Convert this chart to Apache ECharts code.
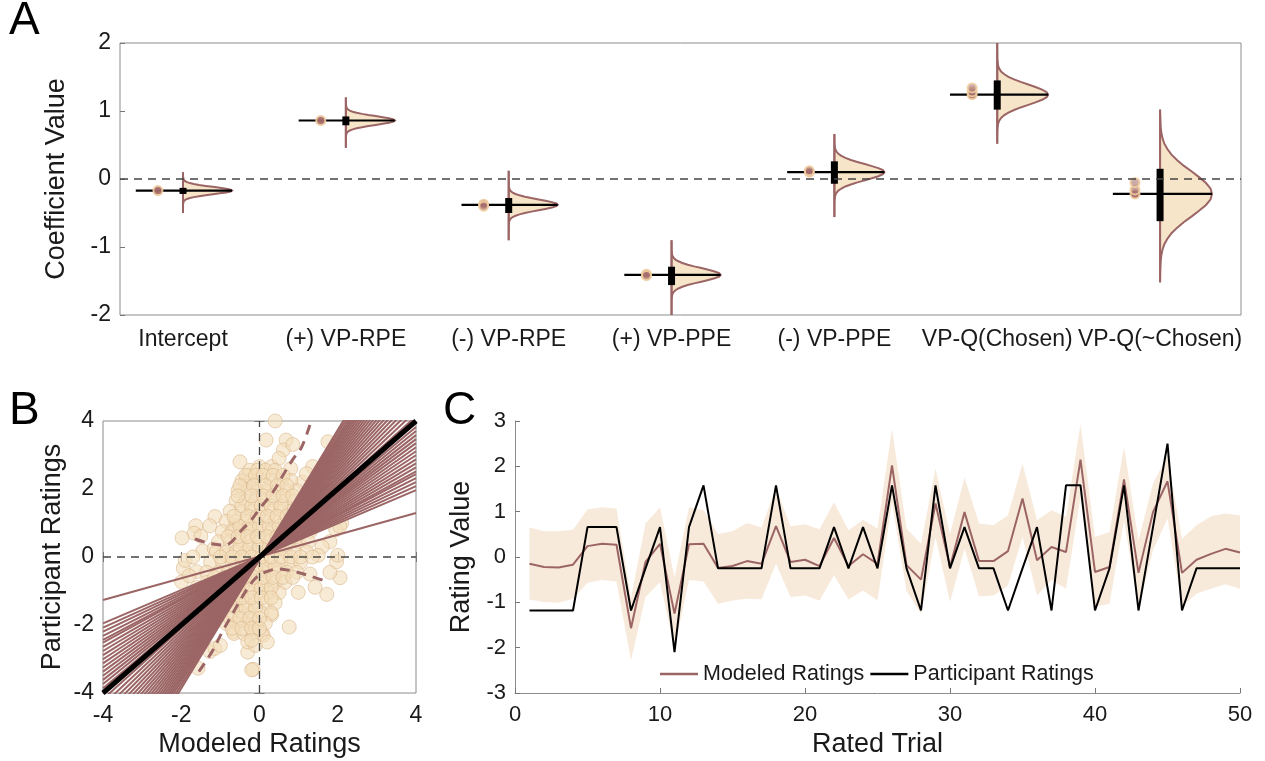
<!DOCTYPE html>
<html><head><meta charset="utf-8">
<script src="https://cdn.jsdelivr.net/npm/echarts@6/dist/echarts.min.js"></script>
<style>html,body{margin:0;padding:0;background:#fff}#c{width:1265px;height:761px}</style>
</head><body><div id="c"></div>
<script>
// ---------------- Panel A data ----------------
const coefNames = ['Intercept','(+) VP-RPE','(-) VP-RPE','(+) VP-PPE','(-) VP-PPE','VP-Q(Chosen)','VP-Q(~Chosen)'];
const coefMean   = [-0.17, 0.86, -0.38, -1.41, 0.10, 1.24, -0.22];
const coefSpread = [0.055, 0.065, 0.08, 0.10, 0.12, 0.15, 0.33];
const coefLo     = [-0.50, 0.46, -0.90, -2.02, -0.56, 0.52, -1.52];
const coefHi     = [0.10, 1.20, 0.12, -0.90, 0.66, 2.02, 1.02];
const ciLo       = [-0.22, 0.79, -0.50, -1.56, -0.07, 1.02, -0.62];
const ciHi       = [-0.13, 0.92, -0.28, -1.29, 0.26, 1.45, 0.15];
const dotVals    = [[-0.17],[0.86],[-0.37,-0.40],[-1.40,-1.42],[0.10,0.12],[1.24,1.28,1.34],[-0.22,-0.16,-0.05]];
const violinWidth = [0.301, 0.301, 0.301, 0.301, 0.307, 0.313, 0.319];
// shape of the half-violin outline (offset in spread units -> relative width)
const profZ = [0, 0.25, 0.5, 0.75, 1, 1.25, 1.5, 1.75, 2, 2.25, 2.5, 2.75, 3, 3.5, 4, 5];
const profW = [1, 0.97, 0.88, 0.75, 0.61, 0.46, 0.33, 0.22, 0.14, 0.08, 0.045, 0.023, 0.012, 0.003, 0.0005, 0];

// ---------------- Panel B data ----------------
const ratingPoints = [
 [0.40,4.0],[0.17,3.44],[0.68,3.44],[0.61,3.15],[0.85,3.31],[1.36,2.66],[1.75,3.39],[0.0,2.66],[0.31,2.66],[-0.29,2.41],[-0.35,2.22],
 [-1.14,1.19],[-1.27,0.92],[-1.63,0.92],[-1.67,0.70],[-1.5,0.61],[-1.98,0.56],[-1.45,0.18],[-1.16,0.25],[-0.84,0.06],[-0.63,0.92],
 [-1.95,-0.33],[-1.99,-0.73],[-1.61,-0.43],[-1.8,-0.55],[-1.27,-2.78],[-1.14,-2.69],[-1.57,-3.27],[-0.16,-3.3],[-0.24,-2.0],[-0.84,-1.31],[-0.67,-2.2],
 [2.06,-0.61],[1.72,-1.1],[1.42,-0.89],[0.76,-2.06],[1.8,-0.45],[1.97,-0.14],[0.99,-1.04],[0.31,-1.7],[-0.2,-3.32],[1.29,-0.5],
 [2.1,1.0],[1.8,0.45],[1.95,0.8],[2.05,0.9],[1.6,0.3],[1.5,0.05],[2.0,0.05],[1.25,1.1],[1.4,1.6],[1.1,2.2],[1.2,2.45],
 [-1.6,-0.9],[-1.9,-0.1],[-1.7,0.0],[-1.3,-1.5],[-1.0,-2.6],[-0.3,-2.8],[0.1,-2.3],[-0.5,2.8],[0.5,2.9],[0.8,2.6],
 [-0.25,2.55],[-0.05,2.55],[0.15,2.55],[0.4,2.55],
 [-0.45,2.25],[-0.2,2.25],[0.05,2.25],[0.3,2.25],[0.55,2.25],[0.8,2.25],
 [-0.55,1.95],[-0.3,1.95],[-0.05,1.95],[0.2,1.95],[0.45,1.95],[0.7,1.95],[0.95,1.95],
 [-0.6,1.65],[-0.35,1.65],[-0.1,1.65],[0.15,1.65],[0.4,1.65],[0.65,1.65],[0.9,1.65],[1.1,1.65],
 [-0.75,1.35],[-0.45,1.35],[-0.2,1.35],[0.05,1.35],[0.3,1.35],[0.55,1.35],[0.8,1.35],[1.0,1.35],
 [-0.85,1.05],[-0.6,1.05],[-0.35,1.05],[-0.1,1.05],[0.15,1.05],[0.4,1.05],[0.65,1.05],[0.9,1.05],[1.15,1.05],
 [-0.95,0.75],[-0.7,0.75],[-0.45,0.75],[-0.2,0.75],[0.05,0.75],[0.3,0.75],[0.55,0.75],[0.8,0.75],[1.05,0.75],[1.3,0.75],
 [-1.05,0.45],[-0.75,0.45],[-0.5,0.45],[-0.25,0.45],[0.0,0.45],[0.25,0.45],[0.5,0.45],[0.75,0.45],[1.0,0.45],[1.25,0.45],
 [-1.1,0.15],[-0.85,0.15],[-0.6,0.15],[-0.35,0.15],[-0.1,0.15],[0.15,0.15],[0.4,0.15],[0.65,0.15],[0.9,0.15],[1.2,0.15],
 [-1.25,-0.15],[-0.95,-0.15],[-0.7,-0.15],[-0.45,-0.15],[-0.2,-0.15],[0.05,-0.15],[0.3,-0.15],[0.55,-0.15],[0.8,-0.15],[1.05,-0.15],
 [-1.35,-0.45],[-1.05,-0.45],[-0.8,-0.45],[-0.55,-0.45],[-0.3,-0.45],[-0.05,-0.45],[0.2,-0.45],[0.45,-0.45],[0.7,-0.45],[0.95,-0.45],
 [-1.35,-0.75],[-1.1,-0.75],[-0.85,-0.75],[-0.6,-0.75],[-0.35,-0.75],[-0.1,-0.75],[0.15,-0.75],[0.4,-0.75],[0.65,-0.75],
 [-1.25,-1.05],[-1.0,-1.05],[-0.75,-1.05],[-0.5,-1.05],[-0.25,-1.05],[0.0,-1.05],[0.25,-1.05],[0.5,-1.05],
 [-1.1,-1.35],[-0.85,-1.35],[-0.6,-1.35],[-0.35,-1.35],[-0.1,-1.35],[0.15,-1.35],[0.4,-1.35],
 [-0.95,-1.65],[-0.7,-1.65],[-0.45,-1.65],[-0.2,-1.65],[0.05,-1.65],[0.3,-1.65],
 [-0.85,-1.95],[-0.6,-1.95],[-0.35,-1.95],[-0.1,-1.95],[0.15,-1.95],
 [-0.65,-2.25],[-0.4,-2.25],[-0.15,-2.25],[0.05,-2.25],
 [-0.45,1.5],[-0.2,1.5],[0.05,1.5],[0.3,1.5],[0.55,1.5],
 [-0.5,0.9],[-0.25,0.9],[0.0,0.9],[0.25,0.9],[0.5,0.9],
 [-0.5,0.3],[-0.25,0.3],[0.0,0.3],[0.25,0.3],[0.5,0.3],
 [-0.6,-0.3],[-0.35,-0.3],[-0.1,-0.3],[0.15,-0.3],[0.4,-0.3],
 [-0.7,-0.9],[-0.45,-0.9],[-0.2,-0.9],[0.05,-0.9],[0.3,-0.9],
 [-0.6,-1.5],[-0.35,-1.5],[-0.1,-1.5],
 [-0.35,2.4],[-0.1,2.4],[0.1,2.4],[0.35,2.4],[0.6,2.4],
 [-0.5,2.1],[-0.15,2.1],[0.15,2.1],[0.45,2.1],[0.7,2.1],
 [-0.55,1.8],[-0.2,1.8],[0.1,1.8],[0.35,1.8],[0.6,1.8],[0.85,1.8],
 [-0.65,1.2],[-0.3,1.2],[-0.05,1.2],[0.2,1.2],[0.45,1.2],[0.7,1.2],[0.95,1.2],
 [-0.8,0.6],[-0.55,0.6],[-0.3,0.6],[-0.05,0.6],[0.2,0.6],[0.45,0.6],[0.7,0.6],[0.95,0.6],
 [-1.0,0.0],[-0.7,0.0],[-0.45,0.0],[-0.2,0.0],[0.05,0.0],[0.3,0.0],[0.55,0.0],[0.8,0.0],[1.05,0.0],[1.35,0.0],
 [-1.15,-0.6],[-0.9,-0.6],[-0.65,-0.6],[-0.4,-0.6],[-0.15,-0.6],[0.1,-0.6],[0.35,-0.6],[0.6,-0.6],[0.85,-0.6],
 [-1.0,-1.2],[-0.7,-1.2],[-0.45,-1.2],[-0.2,-1.2],[0.05,-1.2],[0.3,-1.2],
 [-0.75,-1.8],[-0.5,-1.8],[-0.25,-1.8],[0.0,-1.8],
 [-0.7,-2.1],[-0.45,-2.1],[-0.2,-2.1],[0.0,-2.1],
 [-0.3,-2.5],[-0.1,-2.6],[-0.2,-2.45],[0.2,-2.5]
];
const fitSlopes = [0.32,0.49,0.52,0.55,0.58,0.61,0.63,0.66,0.69,0.72,0.75,0.78,0.81,0.84,0.87,0.90,0.93,0.96,1.00,1.04,1.08,1.12,1.16,1.20,1.24,1.28,1.32,1.36,1.40,1.44,1.48,1.52,1.56,1.60,1.64,1.68,1.72,1.76,1.80,1.85,1.90];
const fitPivot = [0.05, 0.03];
const boundUpper = [[-1.65,0.53],[-1.27,0.40],[-0.88,0.35],[-0.71,0.45],[-0.45,0.8],[-0.2,1.1],[0.01,1.43],[0.35,1.92],[0.65,2.5],[0.87,2.9],[1.08,3.24],[1.32,4.0]];
const boundLower = [[-1.55,-3.37],[-1.21,-2.78],[-0.95,-2.2],[-0.66,-1.61],[-0.36,-1.02],[-0.08,-0.6],[0.2,-0.42],[0.5,-0.35],[0.9,-0.43],[1.3,-0.56],[1.7,-0.72]];

// ---------------- Panel C data ----------------
const trials = [1,2,3,4,5,6,7,8,9,10,11,12,13,14,15,16,17,18,19,20,21,22,23,24,25,26,27,28,29,30,31,32,33,34,35,36,37,38,39,40,41,42,43,44,45,46,47,48,49,50];
const participant = [-1.18,-1.18,-1.18,-1.18,0.66,0.66,0.66,-1.18,-0.25,0.66,-2.1,0.66,1.58,-0.25,-0.25,-0.25,-0.25,1.58,-0.25,-0.25,-0.25,0.66,-0.25,0.66,-0.25,1.58,-0.25,-1.18,1.58,-0.25,0.66,-0.25,-0.25,-1.18,-0.25,0.66,-1.18,1.58,1.58,-1.18,-0.25,1.58,-1.18,0.66,2.5,-1.18,-0.25,-0.25,-0.25,-0.25];
const modeled = [-0.15,-0.22,-0.23,-0.17,0.24,0.29,0.27,-1.57,-0.11,0.29,-1.25,0.28,0.29,-0.24,-0.2,-0.09,-0.15,0.68,-0.11,-0.06,-0.2,0.42,-0.2,0.06,-0.15,2.02,-0.18,-0.5,1.18,-0.22,0.99,-0.09,-0.09,0.13,1.29,-0.07,0.22,0.11,2.15,-0.33,-0.22,1.71,-0.35,0.99,1.67,-0.35,-0.06,0.07,0.18,0.1];
const bandUpper = [0.65,0.57,0.57,0.6,1.05,1.1,1.07,-0.9,0.74,1.09,-0.45,1.1,1.03,0.51,0.57,0.75,0.65,1.53,0.68,0.72,0.61,1.21,0.59,0.82,0.63,2.83,0.63,0.29,1.95,0.51,1.76,0.74,0.7,0.92,2.06,0.81,1.03,0.88,2.94,0.44,0.55,2.43,0.37,1.62,2.24,0.4,0.7,0.9,0.96,0.92];
const bandLower = [-0.94,-0.99,-1.01,-0.92,-0.57,-0.51,-0.54,-2.28,-0.88,-0.55,-2.0,-0.51,-0.54,-1.03,-0.96,-0.92,-0.93,-0.15,-0.88,-0.85,-0.96,-0.4,-0.94,-0.74,-0.96,1.2,-0.75,-1.25,0.44,-0.99,0.18,-0.87,-0.85,-0.63,0.44,-0.85,-0.51,-0.7,1.32,-1.1,-1.03,0.81,-1.14,0.15,0.85,-1.09,-0.81,-0.7,-0.6,-0.7];

// ---------------- styling ----------------
const FONT = 'Liberation Sans, Arial, Helvetica, sans-serif';
const TXT = '#1a1a1a';
const ROSE = '#9c6565';
const BOX = '#8c8c8c';

const chart = echarts.init(document.getElementById('c'), null, {renderer: 'canvas'});

function renderViolin(params, api) {
  const i = api.value(0);
  const cx = i + 1, m = coefMean[i], s = coefSpread[i], lo = coefLo[i], hi = coefHi[i], hw = violinWidth[i];
  const zs = [], ws = [];
  for (let k = profZ.length - 1; k > 0; k--) { zs.push(-profZ[k]); ws.push(profW[k]); }
  for (let k = 0; k < profZ.length; k++) { zs.push(profZ[k]); ws.push(profW[k]); }
  const pts = [api.coord([cx, lo])];
  for (let k = 0; k < zs.length; k++) {
    const y = m + zs[k] * s;
    if (y > lo && y < hi) pts.push(api.coord([cx + ws[k] * hw, y]));
  }
  pts.push(api.coord([cx, hi]));
  const children = [];
  children.push({type: 'polygon', shape: {points: pts}, style: {fill: 'rgba(243,219,180,0.72)', stroke: ROSE, lineWidth: 2}});
  const b0 = api.coord([cx, lo]), b1 = api.coord([cx, hi]);
  children.push({type: 'line', shape: {x1: b0[0], y1: b0[1], x2: b1[0], y2: b1[1]}, style: {stroke: ROSE, lineWidth: 2}});
  const l0 = api.coord([cx - 0.29, m]), l1 = api.coord([cx + hw, m]);
  children.push({type: 'line', shape: {x1: l0[0], y1: l0[1], x2: l1[0], y2: l1[1]}, style: {stroke: '#000', lineWidth: 2.2}});
  const c0 = api.coord([cx, ciHi[i]]), c1 = api.coord([cx, ciLo[i]]);
  children.push({type: 'rect', shape: {x: c0[0] - 3.5, y: c0[1], width: 7, height: c1[1] - c0[1]}, style: {fill: '#000'}});
  dotVals[i].forEach((v, j) => {
    const p = api.coord([cx - 0.154, v]);
    children.push({type: 'circle', shape: {cx: p[0], cy: p[1], r: 4.5},
      style: {fill: j === 0 ? 'rgba(165,105,105,0.95)' : 'rgba(170,115,115,0.6)', stroke: 'rgba(240,205,160,0.9)', lineWidth: 2}});
  });
  return {type: 'group', children};
}

function renderBand(params, api) {
  const pts = [];
  for (let k = 0; k < trials.length; k++) pts.push(api.coord([trials[k], bandUpper[k]]));
  for (let k = trials.length - 1; k >= 0; k--) pts.push(api.coord([trials[k], bandLower[k]]));
  return {type: 'polygon', shape: {points: pts}, style: {fill: '#f8eadb'}};
}

const series = [];
// Panel A
series.push({type: 'line', xAxisIndex: 0, yAxisIndex: 0, data: [[0.613, 0], [7.497, 0]], symbol: 'none',
  lineStyle: {color: '#444', width: 1.3, type: [8, 6]}, silent: true});
series.push({type: 'custom', xAxisIndex: 0, yAxisIndex: 0, renderItem: renderViolin, clip: true,
  data: coefNames.map((n, i) => [i]), silent: true});
// Panel B
series.push({type: 'line', xAxisIndex: 1, yAxisIndex: 1, data: [[-4, 0], [4, 0]], symbol: 'none',
  lineStyle: {color: '#444', width: 1.3, type: [8, 6]}, silent: true});
series.push({type: 'line', xAxisIndex: 1, yAxisIndex: 1, data: [[0, -4], [0, 4]], symbol: 'none',
  lineStyle: {color: '#444', width: 1.3, type: [8, 6]}, silent: true});
series.push({type: 'scatter', xAxisIndex: 1, yAxisIndex: 1, data: ratingPoints, symbolSize: 14,
  itemStyle: {color: 'rgba(243,222,186,0.75)', borderColor: 'rgba(214,178,134,0.7)', borderWidth: 1}, silent: true});
fitSlopes.forEach(sl => {
  series.push({type: 'line', xAxisIndex: 1, yAxisIndex: 1, symbol: 'none', silent: true, clip: true,
    data: [[-4, fitPivot[1] + sl * (-4 - fitPivot[0])], [4, fitPivot[1] + sl * (4 - fitPivot[0])]],
    lineStyle: {color: ROSE, width: 2}});
});
series.push({type: 'line', xAxisIndex: 1, yAxisIndex: 1, symbol: 'none', silent: true, clip: true,
  data: [[-4, -4], [4, 4]], lineStyle: {color: '#000', width: 5}});
[boundUpper, boundLower].forEach(b => {
  series.push({type: 'line', xAxisIndex: 1, yAxisIndex: 1, symbol: 'none', silent: true, clip: true, smooth: 0.35,
    data: b, lineStyle: {color: ROSE, width: 3, type: [10, 7]}});
});
// Panel C
series.push({type: 'custom', xAxisIndex: 3, yAxisIndex: 3, renderItem: renderBand, data: [[0]], silent: true, clip: true});
series.push({type: 'line', name: 'Modeled Ratings', xAxisIndex: 3, yAxisIndex: 3, symbol: 'none', silent: true,
  data: trials.map((t, k) => [t, modeled[k]]), lineStyle: {color: ROSE, width: 2}, itemStyle: {color: ROSE}});
series.push({type: 'line', name: 'Participant Ratings', xAxisIndex: 3, yAxisIndex: 3, symbol: 'none', silent: true,
  data: trials.map((t, k) => [t, participant[k]]), lineStyle: {color: '#000', width: 2}, itemStyle: {color: '#000'}});

const labelStyle = {color: TXT, fontFamily: FONT};
const tickStyle = {inside: true, length: 5, lineStyle: {color: '#777'}};
const option = {
  animation: false,
  backgroundColor: '#fff',
  textStyle: {fontFamily: FONT},
  grid: [
    {left: 120, top: 43, width: 1121, height: 272, show: true, borderColor: BOX, borderWidth: 1, backgroundColor: 'transparent'},
    {left: 103, top: 421, width: 313, height: 272, show: true, borderColor: BOX, borderWidth: 1, backgroundColor: 'transparent'},
    {left: 515, top: 421, width: 725, height: 272}
  ],
  xAxis: [
    {type: 'value', gridIndex: 0, min: 0.613, max: 7.497, splitLine: {show: false}, axisLine: {show: false}, axisTick: {show: false},
      axisLabel: Object.assign({fontSize: 23, margin: 13, customValues: [1, 2, 3, 4, 5, 6, 7], formatter: v => coefNames[Math.round(v) - 1] || ''}, labelStyle)},
    {type: 'value', gridIndex: 1, min: -4, max: 4, interval: 2, splitLine: {show: false}, axisLine: {show: false},
      axisTick: tickStyle,
      axisLabel: Object.assign({fontSize: 23, margin: 11}, labelStyle),
      name: 'Modeled Ratings', nameLocation: 'middle', nameGap: 38, nameTextStyle: Object.assign({fontSize: 27}, labelStyle)},
    {type: 'value', gridIndex: 1, position: 'top', min: -4, max: 4, interval: 2, splitLine: {show: false}, axisLine: {show: false},
      axisTick: tickStyle, axisLabel: {show: false}},
    {type: 'value', gridIndex: 2, min: 0, max: 50, interval: 10, splitLine: {show: false},
      axisLine: {show: true, onZero: false, lineStyle: {color: BOX, width: 1}},
      axisTick: tickStyle,
      axisLabel: Object.assign({fontSize: 22, margin: 11}, labelStyle),
      name: 'Rated Trial', nameLocation: 'middle', nameGap: 38, nameTextStyle: Object.assign({fontSize: 27}, labelStyle)}
  ],
  yAxis: [
    {type: 'value', gridIndex: 0, min: -2, max: 2, interval: 1, splitLine: {show: false}, axisLine: {show: false},
      axisTick: tickStyle,
      axisLabel: Object.assign({fontSize: 23, margin: 9}, labelStyle),
      name: 'Coefficient Value', nameLocation: 'middle', nameGap: 50, nameTextStyle: Object.assign({fontSize: 27}, labelStyle)},
    {type: 'value', gridIndex: 1, min: -4, max: 4, interval: 2, splitLine: {show: false}, axisLine: {show: false},
      axisTick: tickStyle,
      axisLabel: Object.assign({fontSize: 23, margin: 9}, labelStyle),
      name: 'Participant Ratings', nameLocation: 'middle', nameGap: 37, nameTextStyle: Object.assign({fontSize: 27}, labelStyle)},
    {type: 'value', gridIndex: 1, position: 'right', min: -4, max: 4, interval: 2, splitLine: {show: false}, axisLine: {show: false},
      axisTick: tickStyle, axisLabel: {show: false}},
    {type: 'value', gridIndex: 2, min: -3, max: 3, interval: 1, splitLine: {show: false},
      axisLine: {show: true, onZero: false, lineStyle: {color: BOX, width: 1}},
      axisTick: tickStyle,
      axisLabel: Object.assign({fontSize: 22, margin: 9}, labelStyle),
      name: 'Rating Value', nameLocation: 'middle', nameGap: 33, nameTextStyle: Object.assign({fontSize: 27}, labelStyle)}
  ],
  legend: {data: ['Modeled Ratings', 'Participant Ratings'], left: 655, top: 658, icon: 'rect', itemWidth: 38, itemHeight: 2.5, itemGap: 6,
    textStyle: Object.assign({fontSize: 21.5}, labelStyle), selectedMode: false},
  graphic: [
    {type: 'text', left: 9, top: -2, style: {text: 'A', fontSize: 46, fontFamily: FONT, fill: '#000'}},
    {type: 'text', left: 9, top: 388, style: {text: 'B', fontSize: 46, fontFamily: FONT, fill: '#000'}},
    {type: 'text', left: 443, top: 388, style: {text: 'C', fontSize: 46, fontFamily: FONT, fill: '#000'}}
  ],
  series
};
chart.setOption(option);
</script>
</body></html>
